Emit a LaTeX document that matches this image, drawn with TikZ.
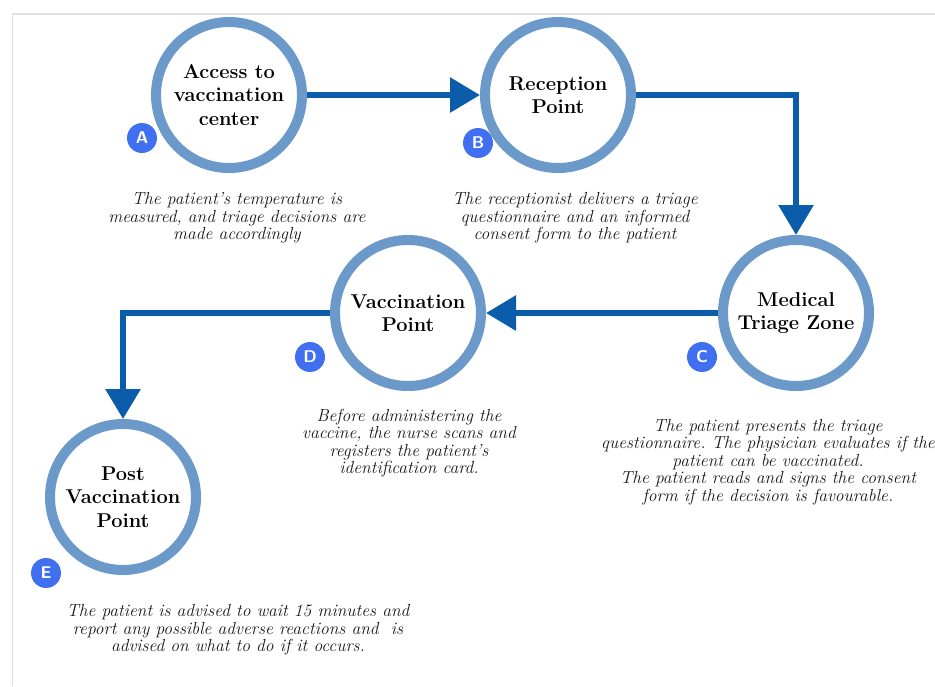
\documentclass[tikz,border=0pt]{standalone}
\usepackage{xcolor}
\usepackage{tikz}
\usetikzlibrary{arrows.meta}
\usetikzlibrary{shapes}

\definecolor{ringblue}{RGB}{107,153,201}
\definecolor{flowblue}{RGB}{12,92,172}
\definecolor{badgeblue}{RGB}{64,112,240}
\definecolor{framegray}{RGB}{224,224,224}

\tikzset{
    stage/.style = {circle, draw = ringblue, line width = 10pt, minimum size = 146pt,
        inner sep = 0pt, align = center, text = black,
        font = \bfseries\fontsize{20}{23.5}\selectfont},
    badge/.style = {circle, fill = badgeblue, minimum size = 30pt, inner sep = 0pt,
        text = white, font = \sffamily\bfseries\fontsize{17}{17}\selectfont},
    note/.style = {align = center, text = black!90,
        font = \frenchspacing\itshape\fontsize{17.5}{17.5}\selectfont},
    flow/.style = {draw = flowblue, line width = 6pt,
        -{Triangle[length = 30pt, width = 34pt]}}
}

\begin{document}
\begin{tikzpicture}[x = 1pt, y = -1pt]
        \useasboundingbox (0, 0) rectangle (935, 686);
        \draw[framegray, line width = 1.5pt] (12.5, 686) -- (12.5, 14) -- (935, 14);

        \node[stage] (acc) at (229, 95) {Access to\\vaccination\\center};
        \node[stage] (rec) at (558, 95) {Reception\\Point};
        \node[stage] (tri) at (796, 313) {Medical\\Triage Zone};
        \node[stage] (vac) at (408, 313) {Vaccination\\Point};
        \node[stage] (post) at (123, 497) {Post\\Vaccination\\Point};

        \node[badge] (ba) at (142, 138) {A};
        \node[badge] (bb) at (478, 143) {B};
        \node[badge] (bc) at (702, 357) {C};
        \node[badge] (bd) at (310, 357) {D};
        \node[badge] (be) at (46, 573) {E};

        \draw[flow] (acc.east) -- (rec.west);
        \draw[flow] (rec.east) -| (tri.north);
        \draw[flow] (tri.west) -- (vac.east);
        \draw[flow] (vac.west) -| (post.north);

        \node[note] (na) at (237, 218) {The patient's temperature is\\measured, and triage decisions are\\made accordingly};
        \node[note] (nb) at (575, 218) {The receptionist delivers a triage\\questionnaire and an informed\\consent form to the patient};
        \node[note] (nc) at (768, 462) {The patient presents the triage\\questionnaire. The physician evaluates if the\\patient can be vaccinated.\\The patient reads and signs the consent\\form if the decision is favourable.};
        \node[note] (nd) at (409, 443) {Before administering the\\vaccine, the nurse scans and\\registers the patient's\\identification card.};
        \node[note] (ne) at (238, 630) {The patient is advised to wait 15 minutes and\\report any possible adverse reactions and\ \ is\\advised on what to do if it occurs.};
    \end{tikzpicture}
\end{document}
